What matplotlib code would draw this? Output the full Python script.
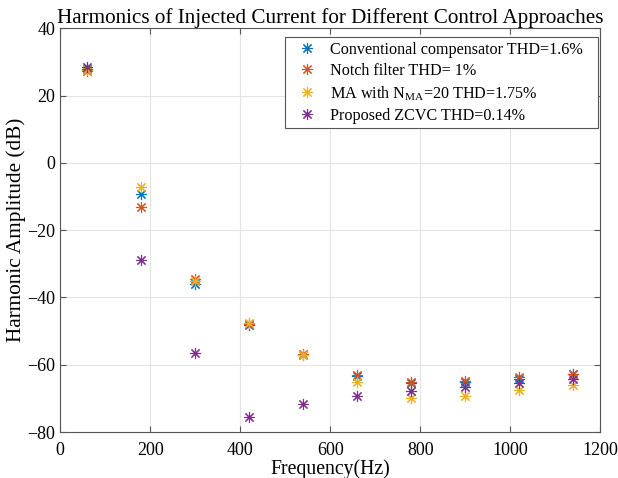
import numpy as np
import matplotlib
matplotlib.use("Agg")
import matplotlib.pyplot as plt

# harmonic frequencies (Hz)
freq = [60, 180, 300, 420, 540, 660, 780, 900, 1020, 1140]

# harmonic amplitudes (dB)
conventional = [28.0, -9.2, -36.1, -48.3, -57.0, -63.3, -65.4, -65.0, -64.2, -62.8]
notch = [27.3, -13.0, -34.6, -47.8, -56.8, -63.0, -65.2, -64.7, -63.7, -62.6]
moving_avg = [27.5, -7.1, -35.2, -47.5, -57.0, -65.0, -69.9, -69.4, -67.5, -65.9]
proposed = [28.5, -29.0, -56.6, -75.6, -71.5, -69.4, -67.9, -66.7, -65.5, -64.3]

labels = ["Conventional compensator THD=1.6%",
          "Notch filter THD= 1%",
          r"MA with N$_{\mathrm{MA}}$=20 THD=1.75%",
          "Proposed ZCVC THD=0.14%"]
colors = ["#0072BD", "#D95319", "#EDB120", "#7E2F8E"]

plt.rcParams["font.family"] = ["Liberation Serif", "DejaVu Serif"]
plt.rcParams["mathtext.fontset"] = "custom"
plt.rcParams["mathtext.rm"] = "Liberation Serif"

fig = plt.figure(figsize=(6.18, 4.78), dpi=100)
ax = fig.add_axes([0.0975, 0.096, 0.874, 0.845])

# MATLAB style '*' marker -> 8-armed asterisk
for series, lab, col in zip([conventional, notch, moving_avg, proposed], labels, colors):
    ax.plot(freq, series, linestyle="none", marker=(8, 2, 0), markersize=8,
            markeredgewidth=0.8, color=col, label=lab)

ax.set_xlim(0, 1200)
ax.set_ylim(-80, 40)
ax.set_xticks(np.arange(0, 1201, 200))
ax.set_yticks(np.arange(-80, 41, 20))
ax.grid(True, color="#e3e3e3", linewidth=0.8)
ax.set_axisbelow(True)
ax.tick_params(direction="in", labelsize=13, length=4, color="#555555",
               top=True, right=True)
ax.tick_params(axis="x", pad=7)
for sp in ax.spines.values():
    sp.set_color("#555555")
    sp.set_linewidth(0.8)

ax.set_xlabel("Frequency(Hz)", fontsize=14.2, labelpad=0)
ax.set_ylabel("Harmonic Amplitude (dB)", fontsize=15.3, labelpad=1)
ax.set_title("Harmonics of Injected Current for Different Control Approaches",
             fontsize=15.2, pad=4)

# legend box stretched to the MATLAB-like width, entries left aligned
leg = ax.legend(loc="upper left", bbox_to_anchor=(0.4157, 0.0, 0.5796, 0.978),
                mode="expand", fontsize=11.6, fancybox=False,
                edgecolor="#555555", framealpha=1, borderaxespad=0,
                handletextpad=0.3, labelspacing=0.31, handlelength=2.2,
                borderpad=0.3)
leg.get_frame().set_linewidth(0.8)

fig.savefig("out.png", dpi=100)
